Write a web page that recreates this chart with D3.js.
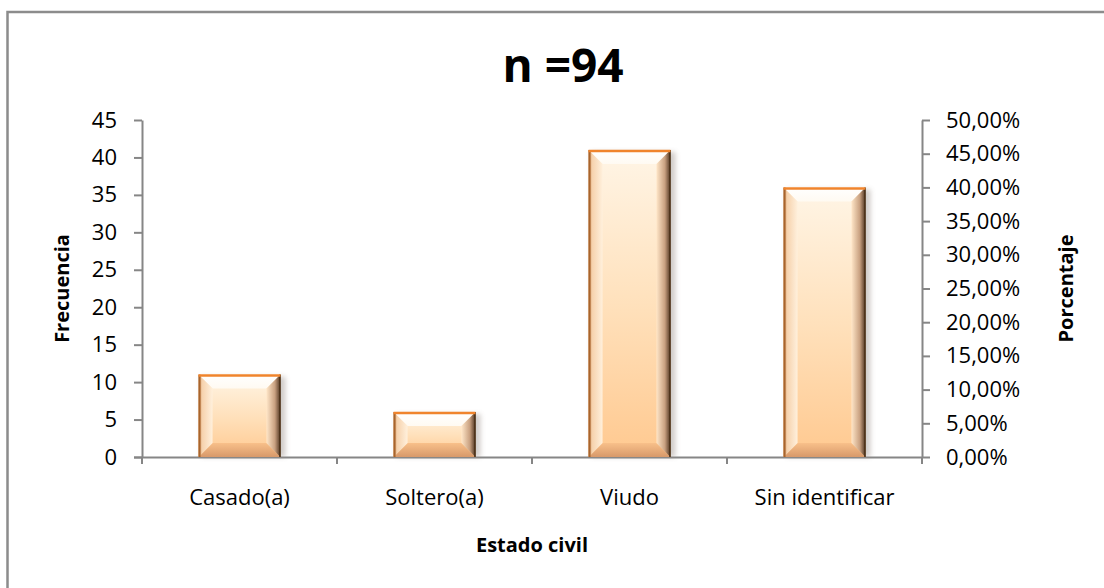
<!DOCTYPE html>
<html>
<head>
<meta charset="utf-8">
<script src="https://cdn.jsdelivr.net/npm/d3@7"></script>
<style>
  body { margin: 0; background: #fff; }
  text { font-family: "Open Sans", sans-serif; fill: #000; }
</style>
</head>
<body>
<svg id="chart" width="1104" height="588"></svg>
<script>
const categories = ['Casado(a)', 'Soltero(a)', 'Viudo', 'Sin identificar'];
const frecuencia = [11, 6, 41, 36];
const leftTicks = [0, 5, 10, 15, 20, 25, 30, 35, 40, 45];
const rightTicks = [0, 0.05, 0.1, 0.15, 0.2, 0.25, 0.3, 0.35, 0.4, 0.45, 0.5];
const titleText = 'n =94';

const svg = d3.select('#chart');
const AXIS = '#868686';
const BEVEL = 14;

const plot = { left: 142, right: 922, top: 120, bottom: 457 };

const x = d3.scaleBand()
  .domain(categories)
  .range([plot.left, plot.right])
  .paddingInner(0.58)
  .paddingOuter(0.29);
const y = d3.scaleLinear().domain([0, 45]).range([plot.bottom, plot.top]);
const y2 = d3.scaleLinear().domain([0, 0.5]).range([plot.bottom, plot.top]);

const locale = d3.formatLocale({ decimal: ',', thousands: '.', grouping: [3], currency: ['', '€'] });
const pct = locale.format('.2%');

// outer frame (cut off at right and bottom like the source)
svg.append('path')
  .attr('d', 'M7.5,588 V12 H1104')
  .attr('fill', 'none')
  .attr('stroke', '#8c8c8c')
  .attr('stroke-width', 2.5);

// gradients
const defs = svg.append('defs');
function linGrad(id, x1, y1, x2, y2, stops) {
  const g = defs.append('linearGradient').attr('id', id)
    .attr('x1', x1).attr('y1', y1).attr('x2', x2).attr('y2', y2);
  stops.forEach(s => g.append('stop').attr('offset', s[0]).attr('stop-color', s[1]));
}
linGrad('face', 0, 0, 0, 1, [[0, '#fff5e6'], [0.5, '#ffe1bc'], [1, '#ffc990']]);
linGrad('bevL', 0, 0, 1, 0, [[0, '#c98a55'], [0.25, '#f6d2ad'], [1, '#fff0dc']]);
linGrad('bevR', 0, 0, 1, 0, [[0, '#ffe6c8'], [0.6, '#c8a080'], [1, '#4e3420']]);
linGrad('bevB', 0, 0, 0, 1, [[0, '#f8c08a'], [1, '#d8996a']]);
linGrad('bevT', 0, 0, 0, 1, [[0, '#ffffff'], [1, '#fffaf2']]);

const shadow = defs.append('filter').attr('id', 'shadow')
  .attr('x', '-20%').attr('y', '-10%').attr('width', '140%').attr('height', '120%');
shadow.append('feGaussianBlur').attr('stdDeviation', 2.5);

// axes
const gLeft = svg.append('g')
  .attr('transform', `translate(${plot.left},0)`)
  .call(d3.axisLeft(y).tickValues(leftTicks).tickSize(8).tickPadding(17).tickSizeOuter(0));
const gRight = svg.append('g')
  .attr('transform', `translate(${plot.right},0)`)
  .call(d3.axisRight(y2).tickValues(rightTicks).tickFormat(pct).tickSize(8).tickPadding(16).tickSizeOuter(0));

const gBottom = svg.append('g')
  .attr('transform', `translate(0,${plot.bottom})`)
  .call(d3.axisBottom(x).tickSize(0).tickPadding(32).tickSizeOuter(0));

// category boundary ticks
const bounds = d3.range(categories.length + 1).map(i => plot.left + i * x.step());
gBottom.selectAll('.bound')
  .data(bounds)
  .enter()
  .append('line')
  .attr('class', 'bound')
  .attr('x1', d => d).attr('x2', d => d)
  .attr('y1', 0).attr('y2', 7);

[gLeft, gRight, gBottom].forEach(g => {
  g.selectAll('path.domain, line').attr('stroke', AXIS).attr('stroke-width', 2);
  g.selectAll('text').style('font-size', '22px').attr('fill', '#000');
});
gBottom.select('path.domain').attr('d', `M${plot.left - 8},0.5H${plot.right}`);

// bars
const bars = svg.append('g')
  .selectAll('g.bar')
  .data(categories.map((c, i) => ({ c, v: frecuencia[i] })))
  .enter()
  .append('g')
  .attr('class', 'bar');

bars.each(function (d) {
  const g = d3.select(this);
  const x0 = x(d.c);
  const w = x.bandwidth();
  const y0 = y(d.v);
  const h = plot.bottom - y0;
  const x1 = x0 + w;
  const y1 = plot.bottom;
  const b = Math.min(BEVEL, h / 2);

  g.append('rect')
    .attr('x', x0 + 3).attr('y', y0 + 2).attr('width', w + 2).attr('height', h - 2)
    .attr('fill', '#9a8f88').attr('opacity', 0.45).attr('filter', 'url(#shadow)');
  g.append('rect')
    .attr('x', x0).attr('y', y0).attr('width', w).attr('height', h)
    .attr('fill', 'url(#face)');

  const poly = (pts, fill) => g.append('polygon')
    .attr('points', pts.map(p => p.join(',')).join(' '))
    .attr('fill', fill);
  poly([[x0, y0], [x1, y0], [x1 - b, y0 + b], [x0 + b, y0 + b]], 'url(#bevT)');
  poly([[x0, y1], [x1, y1], [x1 - b, y1 - b], [x0 + b, y1 - b]], 'url(#bevB)');
  poly([[x0, y0], [x0 + b, y0 + b], [x0 + b, y1 - b], [x0, y1]], 'url(#bevL)');
  poly([[x1, y0], [x1 - b, y0 + b], [x1 - b, y1 - b], [x1, y1]], 'url(#bevR)');

  g.append('line')
    .attr('x1', x0 + 1).attr('x2', x0 + 1).attr('y1', y0).attr('y2', y1)
    .attr('stroke', '#a8642c').attr('stroke-width', 2);
  g.append('line')
    .attr('x1', x1 - 0.5).attr('x2', x1 - 0.5).attr('y1', y0).attr('y2', y1)
    .attr('stroke', '#4a3018').attr('stroke-width', 1.5);
  g.append('line')
    .attr('x1', x0).attr('x2', x1).attr('y1', y0 + 1).attr('y2', y0 + 1)
    .attr('stroke', '#f0842c').attr('stroke-width', 2.5);
});

// titles
svg.append('text')
  .attr('x', 563).attr('y', 82)
  .attr('text-anchor', 'middle')
  .style('font-size', '46px').style('font-weight', 'bold')
  .text(titleText);

svg.append('text')
  .attr('transform', `translate(69,${(plot.top + plot.bottom) / 2})rotate(-90)`)
  .attr('text-anchor', 'middle')
  .style('font-size', '20px').style('font-weight', 'bold')
  .text('Frecuencia');

svg.append('text')
  .attr('transform', `translate(1073,${(plot.top + plot.bottom) / 2})rotate(-90)`)
  .attr('text-anchor', 'middle')
  .style('font-size', '20px').style('font-weight', 'bold')
  .text('Porcentaje');

svg.append('text')
  .attr('x', (plot.left + plot.right) / 2).attr('y', 552)
  .attr('text-anchor', 'middle')
  .style('font-size', '20px').style('font-weight', 'bold')
  .text('Estado civil');
</script>
</body>
</html>
